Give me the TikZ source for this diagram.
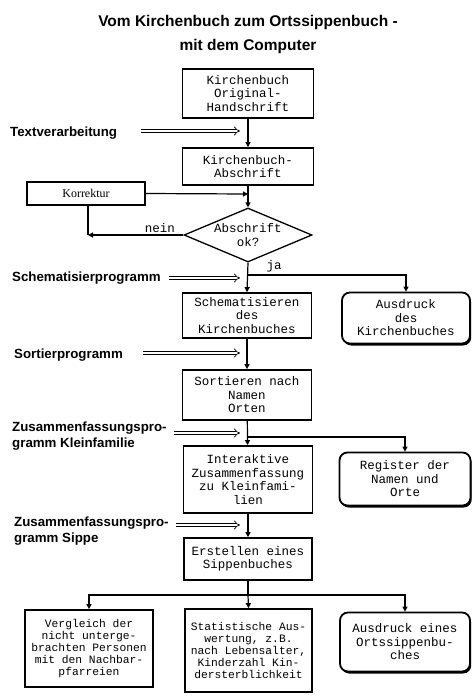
\documentclass[tikz,border=0pt]{standalone}
\usepackage{fontspec}
\setmainfont{Liberation Serif}
\setsansfont{Liberation Sans}
\setmonofont{Liberation Mono}
\usetikzlibrary{arrows.meta,shapes.geometric,shadows}
\begin{document}
\begin{tikzpicture}[x=1pt,y=-1pt,
  proc/.style={draw,line width=1.8pt,align=center,inner sep=0pt,font=\fontsize{12.5}{13.5}\selectfont\ttfamily},
  small/.style={proc,font=\fontsize{11.3}{12}\selectfont\ttfamily},
  term/.style={proc,rounded corners=8pt,fill=white,drop shadow={shadow xshift=1.2pt,shadow yshift=-2pt,opacity=1,fill=black}},
  flow/.style={line width=1.2pt,-{Triangle[length=5pt,width=5pt]}},
  plain/.style={line width=1.2pt},
  feed/.style={double,double distance=2.4pt,line width=0.7pt,-{Implies[length=6pt]}},
  lab/.style={font=\fontsize{13.3}{16}\selectfont\sffamily\bfseries,anchor=west,align=left,inner sep=0pt},
  tit/.style={font=\fontsize{15.5}{17}\selectfont\sffamily\bfseries,inner sep=0pt},
  mlab/.style={font=\fontsize{12.5}{13.5}\selectfont\ttfamily,inner sep=0pt,align=center}]
\useasboundingbox (0,0) rectangle (473,699);
% title
\node[tit] (t1) at (248,22) {Vom Kirchenbuch zum Ortssippenbuch -};
\node[tit] (t2) at (248,46) {mit dem Computer};
% main column
\node[proc,minimum width=131pt,minimum height=49pt] (b1) at (248,93.5) {Kirchenbuch\\Original-\\Handschrift};
\node[proc,minimum width=131pt,minimum height=37pt] (b2) at (248,166.5) {Kirchenbuch-\\Abschrift};
\node[draw,line width=1.6pt,minimum width=118pt,minimum height=23pt,inner sep=0pt,font=\fontsize{12}{13}\selectfont\rmfamily] (kor) at (86,193.5) {Korrektur};
\node[draw,diamond,line width=1.3pt,minimum width=128pt,minimum height=54pt,inner sep=0pt] (dia) at (248,235) {};
\node[mlab] (diatext) at (dia.center) {Abschrift\\ok?};
\node[proc,minimum width=129pt,minimum height=45pt] (b3) at (247,315.5) {Schematisieren\\des\\Kirchenbuches};
\node[term,minimum width=128pt,minimum height=51pt] (aus1) at (406,318) {Ausdruck\\des\\Kirchenbuches};
\node[proc,minimum width=129pt,minimum height=50pt] (b4) at (247,395) {Sortieren nach\\Namen\\Orten};
\node[proc,minimum width=129pt,minimum height=67pt] (b5) at (248,479.5) {Interaktive\\Zusammenfassung\\zu Kleinfami-\\lien};
\node[term,minimum width=131pt,minimum height=53pt] (reg) at (405,479) {Register der\\Namen und\\Orte};
\node[proc,minimum width=128pt,minimum height=42pt] (b6) at (248,559) {Erstellen eines\\Sippenbuches};
\node[small,minimum width=128pt,minimum height=77pt] (v1) at (89,648.5) {Vergleich der\\nicht unterge-\\brachten Personen\\mit den Nachbar-\\pfarreien};
\node[small,minimum width=127pt,minimum height=83pt] (v2) at (248.5,650.5) {Statistische Aus-\\wertung, z.B.\\nach Lebensalter,\\Kinderzahl Kin-\\dersterblichkeit};
\node[term,minimum width=130pt,minimum height=59pt] (aus2) at (405,642) {Ausdruck eines\\Ortssippenbu-\\ches};
% connectors
\draw[flow] (b1) -- (b2);
\coordinate (k1) at (248,194);
\draw[flow] (kor.east) -- (k1);
\draw[flow] (b2) -- (dia.north);
\coordinate (n1) at (88,235);
\draw[flow] (dia.west) -- (n1);
\draw[plain] (n1) -- (n1 |- kor.south);
\node[mlab] (nein) at (160,228) {nein};
\node[mlab] (ja) at (274,266) {ja};
\coordinate (j1) at (248,275);
\draw[flow] (dia.south) -- (b3.north);
\draw[flow] (j1) -| (aus1.north);
\draw[flow] (b3) -- (b4);
\coordinate (j2) at (248,437);
\draw[flow] (b4) -- (b5);
\draw[flow] (j2) -| (reg.north);
\draw[flow] (b5) -- (b6);
\coordinate (j3) at (248,595);
\draw[plain] (b6.south) -- (j3);
\draw[flow] (j3) -| (v1.north);
\draw[flow] (j3) -- (v2.north);
\draw[flow] (j3) -| (aus2.north);
% program feeds
\node[lab] (l1) at (10,133) {Textverarbeitung};
\coordinate (f1a) at (141,131); \coordinate (f1b) at (240,131);
\draw[feed] (f1a) -- (f1b);
\node[lab] (l2) at (12,278) {Schematisierprogramm};
\coordinate (f2a) at (169,278); \coordinate (f2b) at (240,278);
\draw[feed] (f2a) -- (f2b);
\node[lab] (l3) at (14,355) {Sortierprogramm};
\coordinate (f3a) at (143,353); \coordinate (f3b) at (240,353);
\draw[feed] (f3a) -- (f3b);
\node[lab] (l4) at (12,436) {Zusammenfassungspro-\\gramm Kleinfamilie};
\coordinate (f4a) at (174,433); \coordinate (f4b) at (240,433);
\draw[feed] (f4a) -- (f4b);
\node[lab] (l5) at (14,531) {Zusammenfassungspro-\\gramm Sippe};
\coordinate (f5a) at (176,525); \coordinate (f5b) at (240,525);
\draw[feed] (f5a) -- (f5b);
\end{tikzpicture}
\end{document}
